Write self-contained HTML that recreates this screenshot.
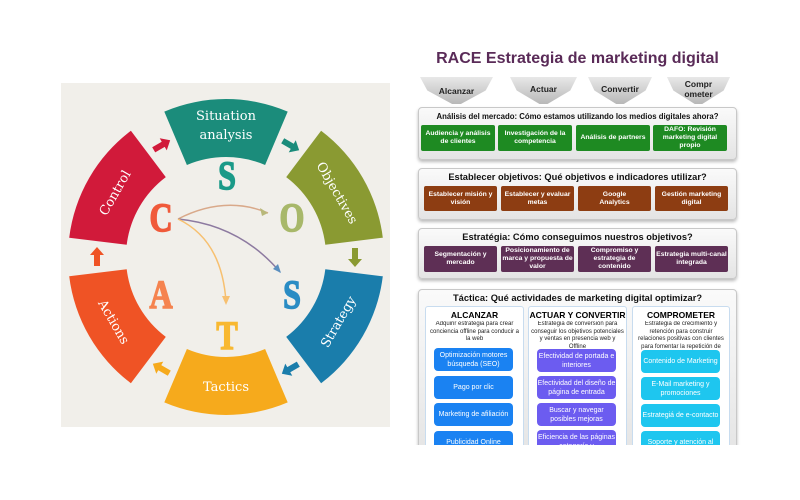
<!DOCTYPE html>
<html><head><meta charset="utf-8"><style>
body{margin:0;width:800px;height:500px;background:#fff;position:relative;overflow:hidden;font-family:"Liberation Sans",sans-serif}
.a{position:absolute}
.chev{position:absolute;top:77px;height:27px;background:linear-gradient(#e8e8e8,#b8b8b8);clip-path:polygon(0 0,100% 0,90% 50%,56% 100%,44% 100%,10% 50%);font-size:8.5px;font-weight:bold;color:#222;text-align:center;line-height:10px}
.panel{position:absolute;left:418px;width:317px;background:linear-gradient(#fafafa,#e4e4e4);border:1px solid #c8c8c8;border-radius:4px;box-shadow:0 2px 3px #bbb}
.pt{position:absolute;left:0;right:0;text-align:center;font-weight:bold;color:#111;white-space:nowrap}
.bx{position:absolute;color:#fff;font-size:6.8px;font-weight:bold;text-align:center;display:flex;align-items:center;justify-content:center;line-height:8px;border-radius:2px}
.col{position:absolute;top:306px;height:145px;background:#fff;border:1px solid #c8dcef;border-radius:3px}
.ch{position:absolute;left:0;right:0;text-align:center;font-weight:bold;font-size:8.5px;top:3px;white-space:nowrap}
.cd{position:absolute;left:2px;right:2px;text-align:center;font-size:6px;line-height:7.5px;top:14px;color:#222;height:30px;overflow:hidden}
.btn{position:absolute;color:#fff;font-size:7px;text-align:center;display:flex;align-items:center;justify-content:center;line-height:9px;border-radius:4px;width:79px;height:23px}
</style></head><body>
<svg class="a" style="left:0;top:0" width="400" height="500">
<rect x="61" y="83" width="329" height="344" fill="#f1efea"/>
<path d="M164.3,111.6 A158,158 0 0 1 287.7,111.6 L265.1,165 A100,100 0 0 0 186.9,165 Z" fill="#1b8c7b"/>
<path d="M321.1,130.8 A158,158 0 0 1 382.8,237.7 L325.3,244.8 A100,100 0 0 0 286.2,177.1 Z" fill="#8a9a32"/>
<path d="M382.8,276.3 A158,158 0 0 1 321.1,383.2 L286.2,336.9 A100,100 0 0 0 325.3,269.2 Z" fill="#1a7dab"/>
<path d="M287.7,402.4 A158,158 0 0 1 164.3,402.4 L186.9,349 A100,100 0 0 0 265.1,349 Z" fill="#f6aa1c"/>
<path d="M130.9,383.2 A158,158 0 0 1 69.2,276.3 L126.7,269.2 A100,100 0 0 0 165.8,336.9 Z" fill="#ef5325"/>
<path d="M69.2,237.7 A158,158 0 0 1 130.9,130.8 L165.8,177.1 A100,100 0 0 0 126.7,244.8 Z" fill="#d11a3a"/>
<g font-family="DejaVu Serif,Liberation Serif,serif" font-size="13" fill="#fff" text-anchor="middle">
<text x="226" y="120">Situation</text><text x="226" y="139">analysis</text>
<text transform="translate(337.7,192.5) rotate(60)" y="5">Objectives</text>
<text transform="translate(337.7,321.5) rotate(-60)" y="5">Strategy</text>
<text x="226" y="391">Tactics</text>
<text transform="translate(114.3,321.5) rotate(60)" y="5">Actions</text>
<text transform="translate(114.3,192.5) rotate(-60)" y="5">Control</text>
</g>
<g>
<polygon points="-9,-3 2,-3 2,-7 10,0 2,7 2,3 -9,3" fill="#1b8c7b" transform="translate(290.5,145.3) rotate(30)"/>
<polygon points="-9,-3 2,-3 2,-7 10,0 2,7 2,3 -9,3" fill="#8a9a32" transform="translate(355,257) rotate(90)"/>
<polygon points="-9,-3 2,-3 2,-7 10,0 2,7 2,3 -9,3" fill="#1a7dab" transform="translate(290.5,368.7) rotate(150)"/>
<polygon points="-9,-3 2,-3 2,-7 10,0 2,7 2,3 -9,3" fill="#f6aa1c" transform="translate(161.5,368.7) rotate(210)"/>
<polygon points="-9,-3 2,-3 2,-7 10,0 2,7 2,3 -9,3" fill="#ef5325" transform="translate(97,257) rotate(270)"/>
<polygon points="-9,-3 2,-3 2,-7 10,0 2,7 2,3 -9,3" fill="#d11a3a" transform="translate(161.5,145.3) rotate(330)"/>
</g>
<g fill="none" stroke-width="1.5">
<path d="M178,219 Q225,195 268,213" stroke="#d9a98a"/>
<path d="M178,219 Q240,225 280,272" stroke="#8d7aa0"/>
<path d="M178,219 Q222,240 226,302" stroke="#f7c070"/>
</g>
<polygon points="268,213 260,208 262,216" fill="#b8b87a"/>
<polygon points="281,273 273,269 278,264" fill="#5b8fbf"/>
<polygon points="226,305 222,296 230,296" fill="#f7c070"/>
<g font-family="Liberation Serif,serif" font-size="40" font-weight="bold" text-anchor="middle" stroke-width="1.5">
<text transform="translate(227,189) scale(0.8,1)" fill="#1b9a88" stroke="#1b9a88">S</text>
<text transform="translate(161,231) scale(0.8,1)" fill="#f05a3a" stroke="#f05a3a">C</text>
<text transform="translate(292,231) scale(0.8,1)" fill="#a8b86a" stroke="#a8b86a">O</text>
<text transform="translate(292,308) scale(0.8,1)" fill="#2a8cc4" stroke="#2a8cc4">S</text>
<text transform="translate(161,308) scale(0.8,1)" fill="#f5834f" stroke="#f5834f">A</text>
<text transform="translate(227,349) scale(0.8,1)" fill="#f8b830" stroke="#f8b830">T</text>
</g>
</svg>

<div class="a" style="left:415px;top:50px;width:325px;text-align:center;font-size:16px;font-weight:bold;color:#5a2b58;white-space:nowrap">RACE Estrategia de marketing digital</div>
<div class="chev" style="left:420px;width:73px;padding-top:9px;height:18px">Alcanzar</div>
<div class="chev" style="left:510px;width:67px;padding-top:7px;height:20px">Actuar</div>
<div class="chev" style="left:588px;width:64px;padding-top:7px;height:20px">Convertir</div>
<div class="chev" style="left:667px;width:63px;padding-top:2px;height:25px">Compr<br>ometer</div>

<div class="panel" style="top:107px;height:51px">
<div class="pt" style="top:4px;font-size:7.8px">Análisis del mercado: Cómo estamos utilizando los medios digitales ahora?</div>
</div>
<div class="bx" style="left:421px;top:125px;width:74px;height:26px;background:#1e8a22">Audiencia y análisis de clientes</div>
<div class="bx" style="left:498px;top:125px;width:74px;height:26px;background:#1e8a22">Investigación de la competencia</div>
<div class="bx" style="left:576px;top:125px;width:74px;height:26px;background:#1e8a22">Análisis de partners</div>
<div class="bx" style="left:653px;top:125px;width:74px;height:26px;background:#1e8a22">DAFO: Revisión marketing digital propio</div>

<div class="panel" style="top:168px;height:50px">
<div class="pt" style="top:3px;font-size:9.3px">Establecer objetivos: Qué objetivos e indicadores utilizar?</div>
</div>
<div class="bx" style="left:424px;top:186px;width:73px;height:25px;background:#8d3d12">Establecer misión y visión</div>
<div class="bx" style="left:501px;top:186px;width:73px;height:25px;background:#8d3d12">Establecer y evaluar metas</div>
<div class="bx" style="left:578px;top:186px;width:73px;height:25px;background:#8d3d12">Google<br>Analytics</div>
<div class="bx" style="left:655px;top:186px;width:73px;height:25px;background:#8d3d12">Gestión marketing digital</div>

<div class="panel" style="top:228px;height:49px">
<div class="pt" style="top:3px;font-size:9.3px">Estratégia: Cómo conseguimos nuestros objetivos?</div>
</div>
<div class="bx" style="left:424px;top:246px;width:73px;height:26px;background:#5e2f55">Segmentación y mercado</div>
<div class="bx" style="left:501px;top:246px;width:73px;height:26px;background:#5e2f55">Posicionamiento de marca y propuesta de valor</div>
<div class="bx" style="left:578px;top:246px;width:73px;height:26px;background:#5e2f55">Compromiso y estrategia de contenido</div>
<div class="bx" style="left:655px;top:246px;width:73px;height:26px;background:#5e2f55">Estrategia multi-canal integrada</div>

<div class="panel" style="top:289px;height:170px">
<div class="pt" style="top:3px;font-size:9.3px">Táctica: Qué actividades de marketing digital optimizar?</div>
</div>
<div class="col" style="left:425px;width:97px"><div class="ch">ALCANZAR</div><div class="cd">Adquirir estrategia para crear conciencia offline para conducir a la web</div></div>
<div class="col" style="left:528px;width:97px"><div class="ch">ACTUAR Y CONVERTIR</div><div class="cd">Estrategia de conversión para conseguir los objetivos potenciales y ventas en presencia web y Offline</div></div>
<div class="col" style="left:632px;width:96px"><div class="ch">COMPROMETER</div><div class="cd">Estrategia de crecimiento y retención para construir relaciones positivas con clientes para fomentar la repetición de</div></div>

<div class="btn" style="left:434px;top:348px;background:#1a82f2">Optimización motores búsqueda (SEO)</div>
<div class="btn" style="left:434px;top:376px;background:#1a82f2">Pago por clic</div>
<div class="btn" style="left:434px;top:403px;background:#1a82f2">Marketing de afiliación</div>
<div class="btn" style="left:434px;top:431px;background:#1a82f2">Publicidad Online</div>
<div class="btn" style="left:537px;top:349px;background:#6c5cf0">Efectividad de portada e interiores</div>
<div class="btn" style="left:537px;top:376px;background:#6c5cf0">Efectividad del diseño de página de entrada</div>
<div class="btn" style="left:537px;top:403px;background:#6c5cf0">Buscar y navegar posibles mejoras</div>
<div class="btn" style="left:537px;top:430px;background:#6c5cf0">Eficiencia de las páginas categoría y</div>
<div class="btn" style="left:641px;top:350px;background:#1ec6ef">Contenido de Marketing</div>
<div class="btn" style="left:641px;top:377px;background:#1ec6ef">E-Mail marketing y promociones</div>
<div class="btn" style="left:641px;top:404px;background:#1ec6ef">Estrategiá de e-contacto</div>
<div class="btn" style="left:641px;top:431px;background:#1ec6ef">Soporte y atención al</div>
<div class="a" style="left:410px;top:445px;width:340px;height:55px;background:#fff"></div>
</body></html>
